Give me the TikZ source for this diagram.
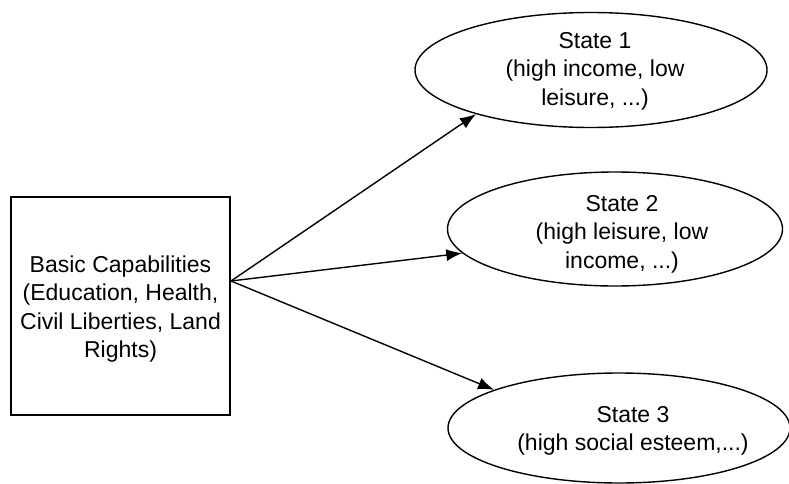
\documentclass[tikz,border=0pt]{standalone}
\usepackage{fontspec}
\setmainfont{Liberation Sans}
\usetikzlibrary{shapes.geometric,arrows.meta}
\tikzset{
  lbl/.style={font=\fontsize{23}{28.5}\selectfont, align=center, inner sep=0pt},
  stateell/.style={draw, ellipse, line width=1.4pt, inner sep=0pt},
  capbox/.style={draw, line width=1.4pt, inner sep=0pt},
  arr/.style={line width=1.4pt, -{Latex[length=16pt,width=12pt]}}
}
\begin{document}
\begin{tikzpicture}[x=1pt,y=-1pt]
\useasboundingbox (0,0) rectangle (789,484);
\node[capbox, minimum width=219pt, minimum height=218pt] (b) at (120.5,306) {};
\node[lbl] (bt) at (120.5,309) {Basic Capabilities\\(Education, Health,\\Civil Liberties, Land\\Rights)};
\node[stateell, minimum width=352pt, minimum height=115pt] (e1) at (591,70) {};
\node[lbl] (t1) at (595,71) {State 1\\(high income, low\\leisure, ...)};
\node[stateell, minimum width=335pt, minimum height=114pt] (e2) at (615,229) {};
\node[lbl] (t2) at (622,234) {State 2\\(high leisure, low\\income, ...)};
\node[stateell, minimum width=342pt, minimum height=110pt] (e3) at (619,428) {};
\node[lbl] (t3) at (633,431) {State 3\\(high social esteem,...)};
\coordinate (o) at (231,281);
\draw[arr] (o) -- (e1.201);
\draw[arr] (o) -- (e2.189);
\draw[arr] (o) -- (e3.163);
\end{tikzpicture}
\end{document}
